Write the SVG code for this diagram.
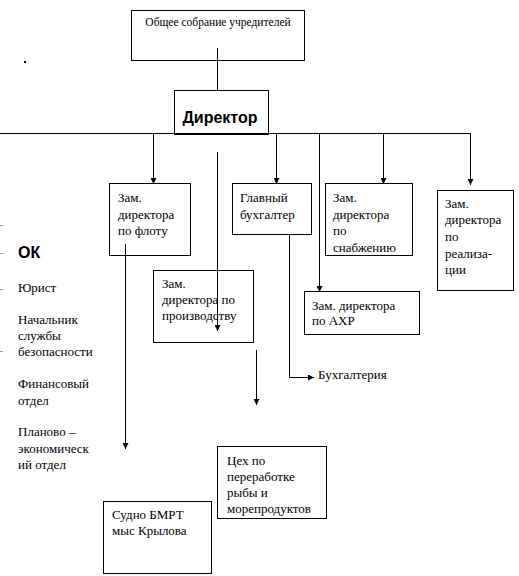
<svg xmlns="http://www.w3.org/2000/svg" width="519" height="576" viewBox="0 0 519 576">
<defs>
<marker id="ah" viewBox="0 0 10 10" refX="10" refY="5" markerWidth="6" markerHeight="6" markerUnits="userSpaceOnUse" orient="auto">
<path d="M0,0 L10,5 L0,10 z" fill="#000"/>
</marker>
<style>
.box{fill:#fff;stroke:#000;stroke-width:1}
.t{font-size:13px;fill:#000}
.s{font-size:11.5px;fill:#000}
.b{font-size:16px;font-weight:bold;fill:#000}
.c{fill:none;stroke:#000;stroke-width:1}
.a{marker-end:url(#ah)}
</style>
</defs>
<rect width="519" height="576" fill="#fff"/>
<g id="nodes" font-family="Liberation Serif, DejaVu Serif, serif">
<g id="founders"><rect class="box" x="131.5" y="10.5" width="173" height="50"/><text class="s" x="218" y="26" text-anchor="middle">Общее собрание учредителей</text></g>
<g id="director"><rect class="box" x="174.5" y="90.5" width="94" height="44"/><text class="b" x="220" y="123" text-anchor="middle" font-family="Liberation Sans, Arial, sans-serif">Директор</text></g>
<g id="fleet"><rect class="box" x="109.5" y="183.5" width="81" height="72"/><text class="t"><tspan x="118" y="202">Зам.</tspan><tspan x="118" y="219">директора</tspan><tspan x="118" y="235">по флоту</tspan></text></g>
<g id="accountant"><rect class="box" x="232.5" y="183.5" width="79" height="51"/><text class="t"><tspan x="240" y="202">Главный</tspan><tspan x="240" y="219">бухгалтер</tspan></text></g>
<g id="supply"><rect class="box" x="325.5" y="183.5" width="87" height="72"/><text class="t"><tspan x="333" y="202">Зам.</tspan><tspan x="333" y="219">директора</tspan><tspan x="333" y="235">по</tspan><tspan x="333" y="252">снабжению</tspan></text></g>
<g id="sales"><rect class="box" x="437.5" y="190.5" width="76" height="100"/><text class="t"><tspan x="445" y="208">Зам.</tspan><tspan x="445" y="224">директора</tspan><tspan x="445" y="241">по</tspan><tspan x="445" y="258">реализа-</tspan><tspan x="445" y="274">ции</tspan></text></g>
<g id="ahr"><rect class="box" x="304.5" y="291.5" width="115" height="43"/><text class="t"><tspan x="312" y="310">Зам. директора</tspan><tspan x="312" y="325">по АХР</tspan></text></g>
<g id="production"><rect class="box" x="153.5" y="270.5" width="100" height="72"/><text class="t"><tspan x="162" y="288">Зам.</tspan><tspan x="162" y="304">директора по</tspan><tspan x="162" y="320">производству</tspan></text></g>
<g id="workshop"><rect class="box" x="217.5" y="446.5" width="109" height="72"/><text class="t"><tspan x="227" y="465">Цех по</tspan><tspan x="227" y="481">переработке</tspan><tspan x="227" y="497">рыбы и</tspan><tspan x="227" y="513">морепродуктов</tspan></text></g>
<g id="vessel"><rect class="box" x="103.5" y="501.5" width="108" height="72"/><text class="t"><tspan x="112" y="519">Судно БМРТ</tspan><tspan x="112" y="535">мыс Крылова</tspan></text></g>
<g id="accounting"><text class="t" x="318" y="379">Бухгалтерия</text></g>
<g id="left-list">
<text class="b" x="18" y="258" font-family="Liberation Sans, Arial, sans-serif">ОК</text>
<text class="t" x="18" y="292">Юрист</text>
<text class="t"><tspan x="18" y="324">Начальник</tspan><tspan x="18" y="340">службы</tspan><tspan x="18" y="356">безопасности</tspan></text>
<text class="t"><tspan x="18" y="388">Финансовый</tspan><tspan x="18" y="405">отдел</tspan></text>
<text class="t"><tspan x="18" y="436">Планово –</tspan><tspan x="18" y="453">экономическ</tspan><tspan x="18" y="469">ий отдел</tspan></text>
</g>
</g>
<g id="connectors">
<line class="c" x1="217.5" y1="48" x2="217.5" y2="91"/>
<line class="c" x1="0" y1="133.5" x2="470.5" y2="133.5"/>
<line class="c a" x1="153.5" y1="133" x2="153.5" y2="184"/>
<line class="c a" x1="276.5" y1="133" x2="276.5" y2="184"/>
<line class="c a" x1="319.5" y1="133" x2="319.5" y2="292"/>
<line class="c a" x1="383.5" y1="133" x2="383.5" y2="184"/>
<line class="c a" x1="470.5" y1="133" x2="470.5" y2="185"/>
<line class="c a" x1="217.5" y1="152" x2="217.5" y2="331"/>
<line class="c a" x1="125.5" y1="244" x2="125.5" y2="449"/>
<line class="c a" x1="256.5" y1="350" x2="256.5" y2="405"/>
<polyline class="c a" points="289.5,234 289.5,377.5 314,377.5"/>
</g>
<g id="marks" stroke="#999" stroke-width="1">
<line x1="0" y1="225.5" x2="3" y2="225.5"/>
<line x1="0" y1="253.5" x2="3" y2="253.5"/>
<line x1="0" y1="289.5" x2="3" y2="289.5"/>
<line x1="0" y1="351.5" x2="3" y2="351.5"/>
</g>
<rect x="24" y="61" width="2" height="2" fill="#000"/>
</svg>
